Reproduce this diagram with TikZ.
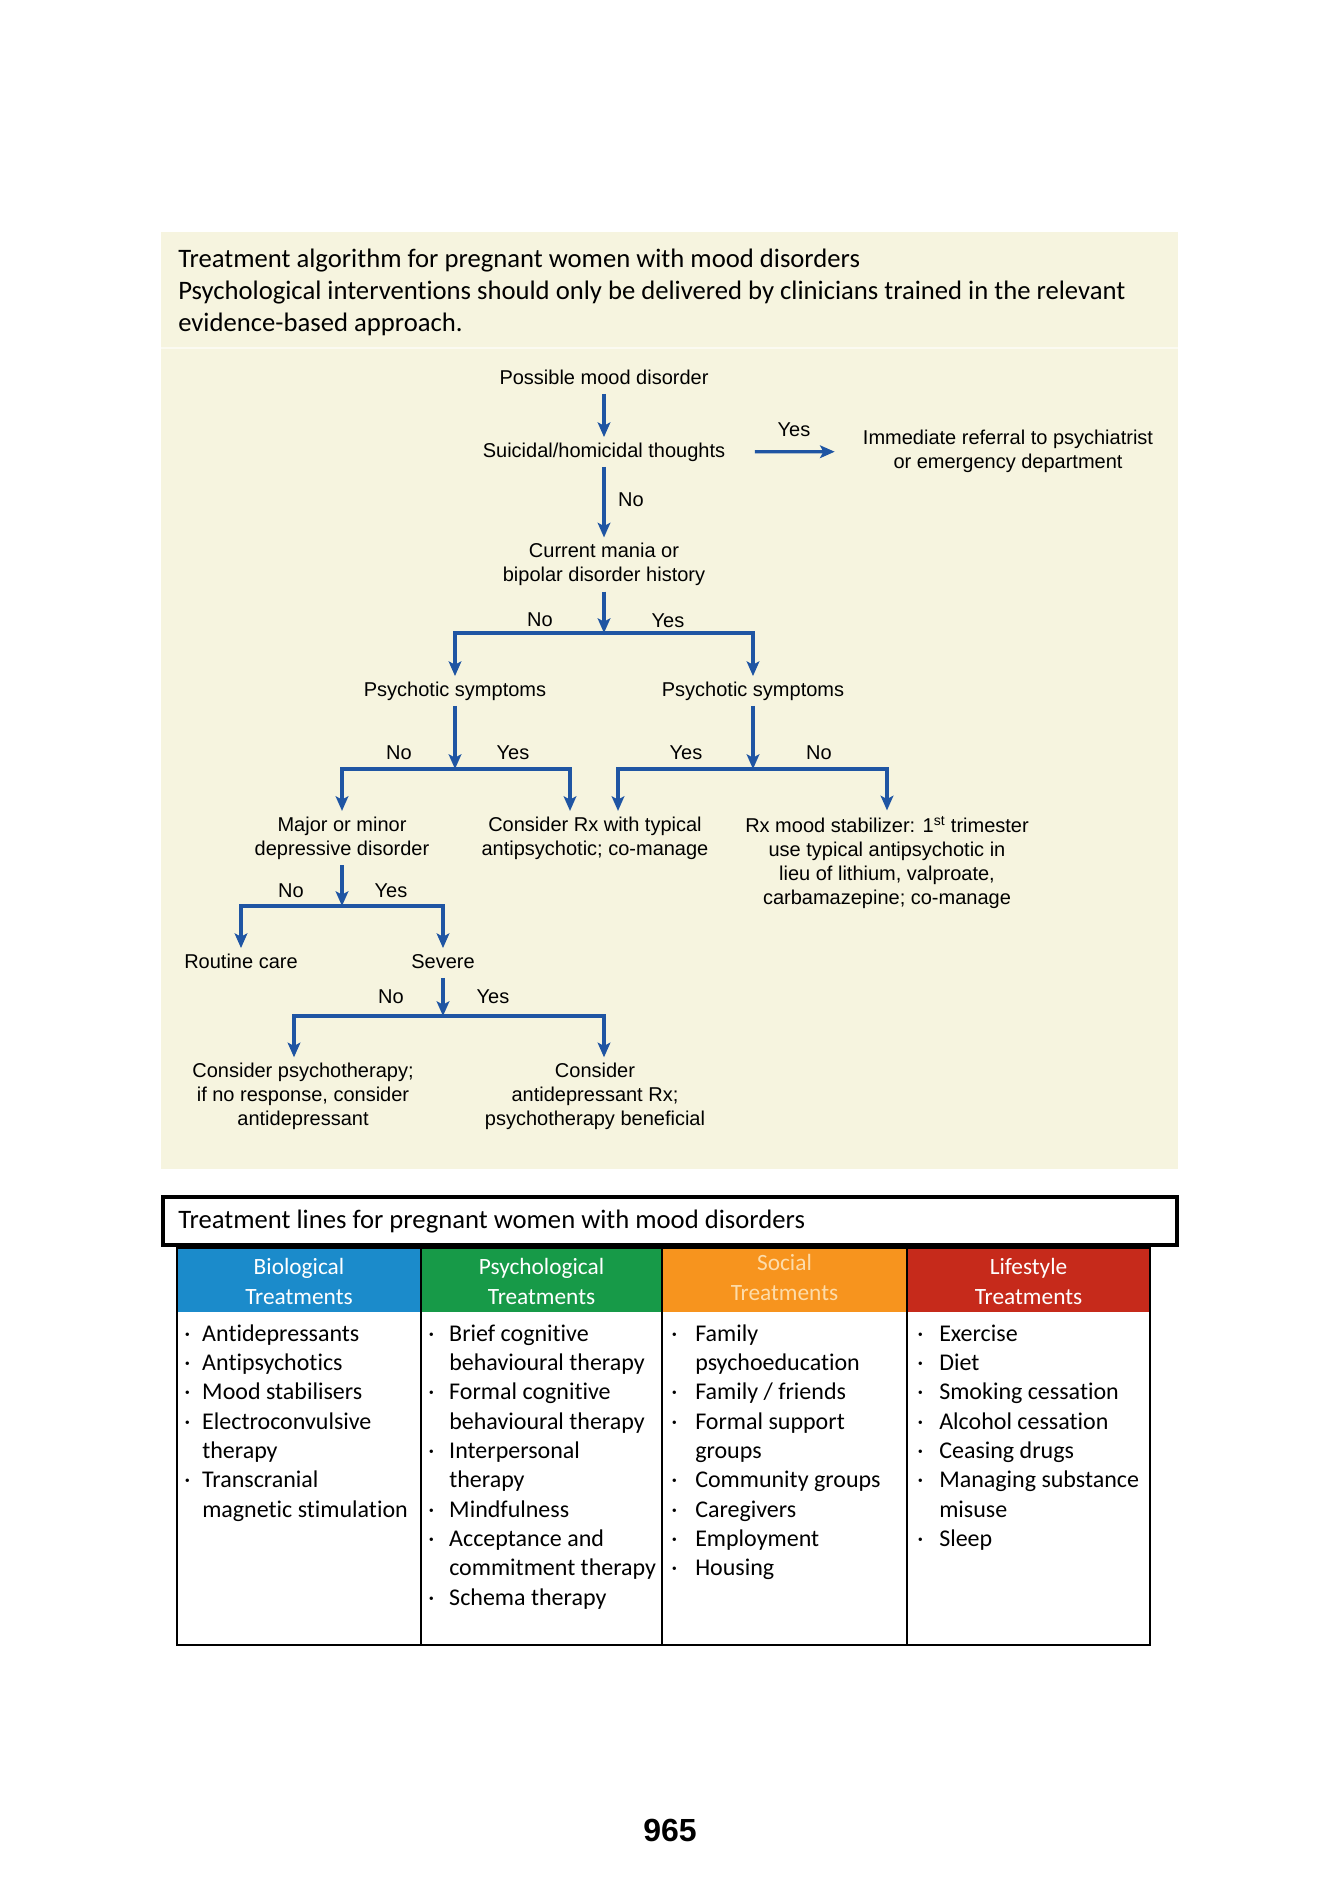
\documentclass[tikz,border=0pt]{standalone}
\usepackage{fontspec}
\setmainfont{Liberation Sans}
\newfontfamily\calfont[Ligatures=NoCommon, RawFeature={-liga;-clig;-calt}]{Carlito}
\usepackage{tikz}
\usetikzlibrary{arrows.meta}
\definecolor{cream}{HTML}{F6F4DF}
\definecolor{flowblue}{HTML}{1F55A3}
\definecolor{bioblue}{HTML}{1B8BCB}
\definecolor{psygreen}{HTML}{179A48}
\definecolor{socorange}{HTML}{F7941E}
\definecolor{lifered}{HTML}{C62A1B}
\definecolor{socpeach}{HTML}{FDDCAA}
\newlength{\bulw}
\newcommand{\bl}{\makebox[\bulw][l]{\textperiodcentered}}
\newcommand{\nb}{\hspace*{\bulw}}

\begin{document}
\begin{tikzpicture}[x=0.75pt, y=-0.75pt,
  box/.style={inner sep=4pt, align=center, font=\fontsize{15}{18.2}\selectfont},
  fc/.style={box, text height=11pt, text depth=3pt},
  lbl/.style={fc, inner sep=0pt},
  arr/.style={flowblue, line width=2.4pt, -{Stealth[length=11pt, width=9.5pt, inset=2.5pt]}},
  hd/.style={inner sep=0pt, anchor=north, align=center, text=white, font=\calfont\fontsize{17.5}{22}\selectfont},
  items/.style={inner sep=0pt, anchor=north west, align=left, font=\calfont\fontsize{18}{22}\selectfont,
    execute at begin node={\setlength{\bulw}{#1}}},
  tbl/.style={black, line width=1.8pt}]
\useasboundingbox (0,0) rectangle (1340,1895);
\fill[white] (0,0) rectangle (1340,1895);
\fill[cream] (161,232) rectangle (1178,1169);
\draw[white!55!cream, line width=1.5pt] (161,348) -- (1178,348);
\node[inner sep=0pt, anchor=north west, align=left, font=\calfont\fontsize{20}{24}\selectfont] (intro) at (178,244.5)
  {\strut Treatment algorithm for pregnant women with mood disorders\\
   Psychological interventions should only be delivered by clinicians trained in the relevant\\
   evidence-based approach.};

\node[fc] (pmd) at (604,379) {Possible mood disorder};
\node[fc] (sht) at (604,452) {Suicidal/homicidal thoughts};
\node[box] (imm) at (1008,451.5) {Immediate referral to psychiatrist\\or emergency department};
\node[box] (cm) at (604,564.5) {Current mania or\\bipolar disorder history};
\node[fc] (ps1) at (455,691) {Psychotic symptoms};
\node[fc] (ps2) at (753,691) {Psychotic symptoms};
\node[box] (mdd) at (342,838) {Major or minor\\depressive disorder};
\node[box] (crx) at (595,838) {Consider Rx with typical\\antipsychotic; co-manage};
\node[box] (rxm) at (887,862.5) {Rx mood stabilizer: 1\textsuperscript{st} trimester\\use typical antipsychotic in\\lieu of lithium, valproate,\\carbamazepine; co-manage};
\node[fc] (rc) at (241,963) {Routine care};
\node[fc] (sev) at (443,963) {Severe};
\node[box] (cps) at (303,1096.5) {Consider psychotherapy;\\if no response, consider\\antidepressant};
\node[box] (cad) at (595,1096.5) {Consider\\antidepressant Rx;\\psychotherapy beneficial};

\coordinate (b1) at (604,633);
\coordinate (b2) at (455,769);
\coordinate (b2r) at (570,769);
\coordinate (b3) at (753,769);
\coordinate (b3l) at (618,769);
\coordinate (b4) at (342,906);
\coordinate (b5) at (443,1016);
\coordinate (b5l) at (294,1016);
\coordinate (b5r) at (604,1016);

\draw[arr] (pmd) -- (sht);
\draw[arr, shorten <=18pt, shorten >=17pt] (sht) -- (imm);
\draw[arr] (sht) -- (cm);
\draw[arr] (cm) -- (b1);
\draw[arr] (b1) -| (ps1);
\draw[arr] (b1) -| (ps2);
\draw[arr] (ps1) -- (b2);
\draw[arr] (b2) -| (mdd);
\draw[arr] (b2) -| (b2r |- crx.north);
\draw[arr] (ps2) -- (b3);
\draw[arr] (b3) -| (b3l |- crx.north);
\draw[arr] (b3) -| (rxm);
\draw[arr] (mdd) -- (b4);
\draw[arr] (b4) -| (rc);
\draw[arr] (b4) -| (sev);
\draw[arr] (sev) -- (b5);
\draw[arr] (b5) -| (b5l |- cps.north);
\draw[arr] (b5) -| (b5r |- cad.north);

\node[lbl] (yes0) at (794,431) {Yes};
\node[lbl] (no0) at (631,501) {No};
\node[lbl] (no1) at (540,621) {No};
\node[lbl] (yes1) at (668,622) {Yes};
\node[lbl] (no2) at (399,754) {No};
\node[lbl] (yes2) at (513,754) {Yes};
\node[lbl] (yes3) at (686,754) {Yes};
\node[lbl] (no3) at (819,754) {No};
\node[lbl] (no4) at (291,892) {No};
\node[lbl] (yes4) at (391,892) {Yes};
\node[lbl] (no5) at (391,998) {No};
\node[lbl] (yes5) at (493,998) {Yes};

\draw[line width=3pt] (163,1197) rectangle (1177,1245);
\node[inner sep=0pt, anchor=base west, font=\calfont\fontsize{20}{24}\selectfont] (lines) at (178,1228)
  {Treatment lines for pregnant women with mood disorders};

\fill[bioblue] (177,1248) rectangle (421,1312);
\fill[psygreen] (421,1248) rectangle (662,1312);
\fill[socorange] (662,1248) rectangle (907,1312);
\fill[lifered] (907,1248) rectangle (1150,1312);
\node[hd] (hbio) at (299,1254) {\strut Biological\\Treatments};
\node[hd] (hpsy) at (541.5,1254) {\strut Psychological\\Treatments};
\node[hd, text=socpeach] (hsoc) at (784.5,1250) {\strut Social\\Treatments};
\node[hd] (hlife) at (1028.5,1254) {\strut Lifestyle\\Treatments};

\node[items=13.5pt] (bio) at (184,1320.5)
  {\strut\bl Antidepressants\\ \bl Antipsychotics\\ \bl Mood stabilisers\\ \bl Electroconvulsive\\
   \nb therapy\\ \bl Transcranial\\ \nb magnetic stimulation};
\node[items=15.75pt] (psy) at (428,1320.5)
  {\strut\bl Brief cognitive\\ \nb behavioural therapy\\ \bl Formal cognitive\\ \nb behavioural therapy\\
   \bl Interpersonal\\ \nb therapy\\ \bl Mindfulness\\ \bl Acceptance and\\ \nb commitment therapy\\ \bl Schema therapy};
\node[items=18pt] (soc) at (671,1320.5)
  {\strut\bl Family\\ \nb psychoeducation\\ \bl Family / friends\\ \bl Formal support\\ \nb groups\\
   \bl Community groups\\ \bl Caregivers\\ \bl Employment\\ \bl Housing};
\node[items=16.5pt] (life) at (917,1320.5)
  {\strut\bl Exercise\\ \bl Diet\\ \bl Smoking cessation\\ \bl Alcohol cessation\\ \bl Ceasing drugs\\
   \bl Managing substance\\ \nb misuse\\ \bl Sleep};

\draw[tbl] (177,1248) rectangle (1150,1645);
\foreach \x in {421,662,907}
\draw[tbl] (\x,1248) -- (\x,1645);

\node[font=\bfseries\fontsize{24}{28}\selectfont] (page) at (670,1830) {965};
\end{tikzpicture}
\end{document}
